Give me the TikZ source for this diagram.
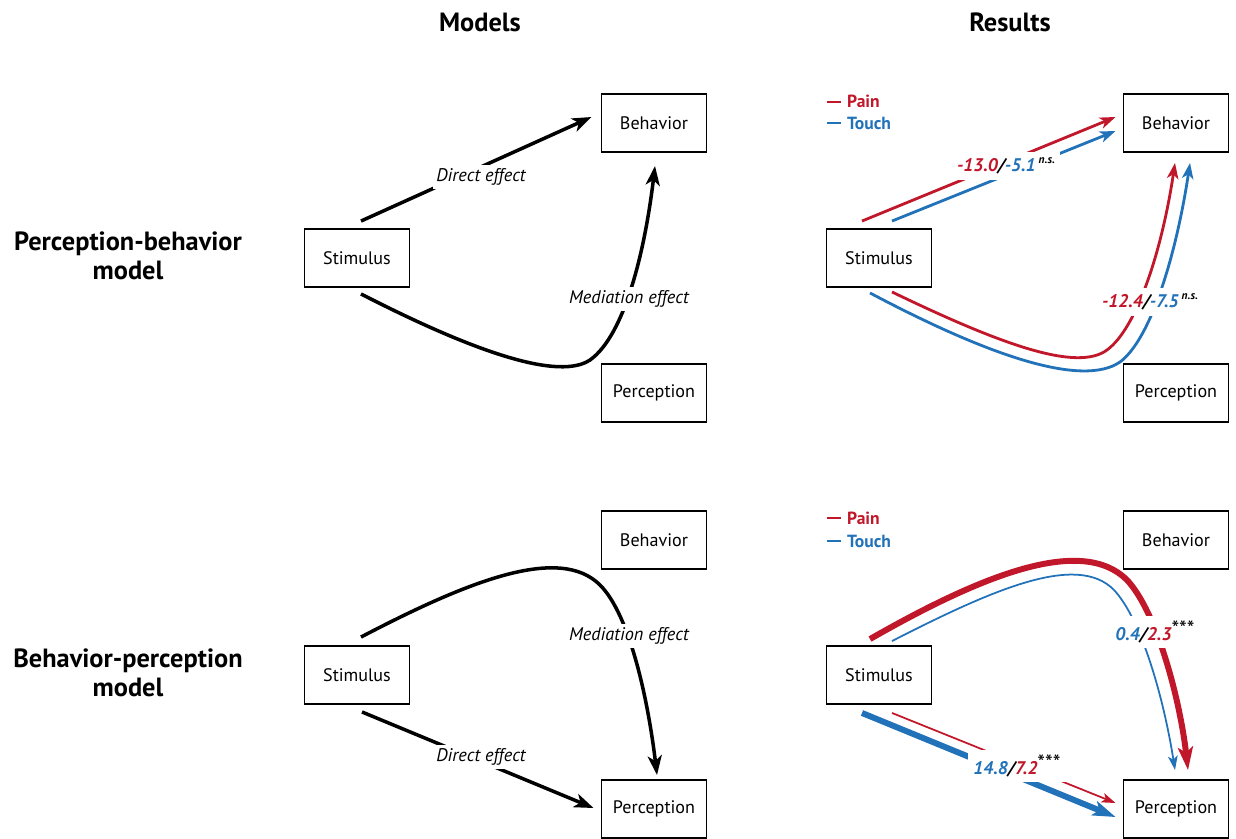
\documentclass[tikz,border=0pt]{standalone}
\usepackage{fontspec}
\setmainfont{PT Sans}
\usetikzlibrary{arrows.meta,positioning,calc}

\begin{document}
\begin{tikzpicture}[x=0.02cm, y=-0.02cm,
    varbox/.style={draw, line width=1.1pt, minimum width=2.1cm, minimum height=1.16cm, font=\fontsize{10.3}{12}\selectfont},
    effect/.style={line width=2pt, -{Stealth[length=11pt, width=8pt, inset=3pt]}},
    effectlabel/.style={fill=white, inner sep=2pt, font=\fontsize{10.4}{12}\selectfont\itshape},
    resultlabel/.style={fill=white, inner sep=3pt, font=\fontsize{10.4}{12}\selectfont\bfseries\itshape},
    thinres/.style={line width=1.6pt, -{Stealth[length=9pt, width=6.5pt, inset=2.5pt]}},
    hairres/.style={line width=1pt, -{Stealth[length=8pt, width=5.5pt, inset=2pt]}},
    thickres/.style={line width=3.4pt, -{Stealth[length=13pt, width=8.5pt, inset=3pt]}},
    legendtext/.style={anchor=west, font=\fontsize{10}{12}\selectfont\bfseries},
    title/.style={font=\fontsize{15}{16.5}\selectfont\bfseries, align=center}]
    % Colours
    \definecolor{painRed}{HTML}{C1172A}
    \definecolor{touchBlue}{HTML}{2272BA}

    \useasboundingbox (0,0) rectangle (1236,838);

    % --- Titles ---
    \node[title] (tModels) at (480,22) {Models};
    \node[title] (tResults) at (1010,22) {Results};
    \node[title] (tPB) at (128,256) {Perception-behavior\\model};
    \node[title] (tBP) at (128,673) {Behavior-perception\\model};

    % --- Perception-behavior model (top left) ---
    \node[varbox] (stimA) at (357,258) {Stimulus};
    \node[varbox] (behA) at (654,123) {Behavior};
    \node[varbox] (percA) at (654,393) {Perception};

    \draw[effect] ($(stimA.north)+(4,-7)$) -- ($(behA.west)+(-9,-6)$);
    \draw[effect] ($(stimA.south)+(4,6)$) .. controls (480,355) and (560,380) .. (590,360)
        .. controls (625,335) and (645,250) .. ($(behA.south)+(1,13)$);
    \node[effectlabel] (dirA) at (481,177) {Direct effect};
    \node[effectlabel] (medA) at (629,299) {Mediation effect};

    % --- Behavior-perception model (bottom left) ---
    \node[varbox] (stimB) at (357,675) {Stimulus};
    \node[varbox] (behB) at (654,540) {Behavior};
    \node[varbox] (percB) at (654,809) {Perception};

    \draw[effect] ($(stimB.south)+(5,7)$) -- ($(percB.west)+(-7,-1)$);
    \draw[effect] ($(stimB.north)+(4,-8)$) .. controls (470,580) and (560,545) .. (600,585)
        .. controls (630,615) and (648,700) .. ($(percB.north)+(3,-4)$);
    \node[effectlabel] (dirB) at (481,757) {Direct effect};
    \node[effectlabel] (medB) at (629,636) {Mediation effect};

    % --- Results, perception-behavior (top right) ---
    \begin{scope}[shift={(522,0)}]
        \draw[painRed, line width=1.6pt] (305,102) -- (319,102);
        \node[legendtext, painRed] (painC) at (319,101) {Pain};
        \draw[touchBlue, line width=1.6pt] (305,123) -- (319,123);
        \node[legendtext, touchBlue] (touchC) at (319,123) {Touch};

        \node[varbox] (stimC) at (357,258) {Stimulus};
        \node[varbox] (behC) at (654,123) {Behavior};
        \node[varbox] (percC) at (654,393) {Perception};

        \draw[thinres, painRed] ($(stimC.north)+(-17,-7)$) -- ($(behC.west)+(-7,-6)$);
        \draw[thinres, touchBlue] ($(stimC.north)+(13,-7)$) -- ($(behC.west)+(-7,8)$);
        \draw[thinres, painRed] ($(stimC.south)+(13,4)$) .. controls (480,345) and (555,372) .. (585,350)
            .. controls (615,328) and (640,250) .. ($(behC.south)+(-1,10)$);
        \draw[thinres, touchBlue] ($(stimC.south)+(-9,5)$) .. controls (465,355) and (560,388) .. (598,362)
            .. controls (630,338) and (655,250) .. ($(behC.south)+(14,10)$);

        \node[resultlabel] (dirC) at (484,166) {\textcolor{painRed}{-13.0}/\textcolor{touchBlue}{-5.1}\,\raisebox{0.9ex}{\fontsize{6.5}{7}\selectfont n.s.}};
        \node[resultlabel] (medC) at (628,302) {\textcolor{painRed}{-12.4}/\textcolor{touchBlue}{-7.5}\,\raisebox{0.9ex}{\fontsize{6.5}{7}\selectfont n.s.}};
    \end{scope}

    % --- Results, behavior-perception (bottom right) ---
    \begin{scope}[shift={(522,0)}]
        \draw[painRed, line width=1.6pt] (305,518) -- (319,518);
        \node[legendtext, painRed] (painD) at (319,518) {Pain};
        \draw[touchBlue, line width=1.6pt] (305,541) -- (319,541);
        \node[legendtext, touchBlue] (touchD) at (319,541) {Touch};

        \node[varbox] (stimD) at (357,675) {Stimulus};
        \node[varbox] (behD) at (654,540) {Behavior};
        \node[varbox] (percD) at (654,809) {Perception};

        \draw[thickres, touchBlue] ($(stimD.south)+(-17,8)$) -- ($(percD.west)+(-7,8)$);
        \draw[hairres, painRed] ($(stimD.south)+(13,8)$) -- ($(percD.west)+(-7,-6)$);
        \draw[thickres, painRed] ($(stimD.north)+(-9,-6)$) .. controls (460,575) and (560,535) .. (605,580)
            .. controls (635,612) and (658,700) .. ($(percD.north)+(12,-9)$);
        \draw[hairres, touchBlue] ($(stimD.north)+(13,-4)$) .. controls (470,590) and (555,552) .. (592,590)
            .. controls (620,620) and (642,700) .. ($(percD.north)+(-1,-9)$);

        \node[resultlabel] (dirD) at (495,766) {\textcolor{touchBlue}{14.8}/\textcolor{painRed}{7.2}\raisebox{0.35ex}{\normalfont\fontsize{12.5}{13}\selectfont ***}};
        \node[resultlabel] (medD) at (633,632) {\textcolor{touchBlue}{0.4}/\textcolor{painRed}{2.3}\raisebox{0.35ex}{\normalfont\fontsize{12.5}{13}\selectfont ***}};
    \end{scope}
\end{tikzpicture}
\end{document}
